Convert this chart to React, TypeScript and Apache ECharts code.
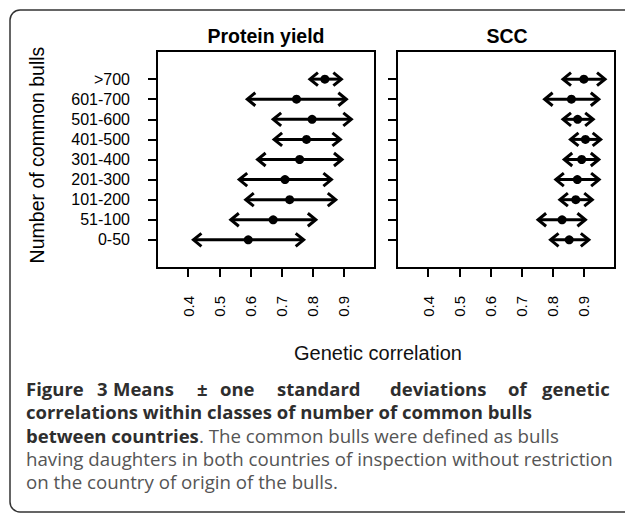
import React, { useEffect, useRef } from "react";
import * as echarts from "echarts";

const categories = ["0-50", "51-100", "101-200", "201-300", "301-400", "401-500", "501-600", "601-700", ">700"];
const proteinLow = [0.417, 0.537, 0.585, 0.564, 0.623, 0.676, 0.673, 0.59, 0.791];
const proteinMean = [0.593, 0.673, 0.726, 0.711, 0.758, 0.78, 0.798, 0.748, 0.839];
const proteinHigh = [0.771, 0.81, 0.874, 0.86, 0.894, 0.889, 0.924, 0.908, 0.892];
const sccLow = [0.793, 0.753, 0.823, 0.81, 0.837, 0.857, 0.833, 0.774, 0.833];
const sccMean = [0.853, 0.83, 0.874, 0.879, 0.893, 0.905, 0.88, 0.86, 0.9];
const sccHigh = [0.916, 0.905, 0.927, 0.949, 0.948, 0.954, 0.93, 0.948, 0.968];
const xTicks = [0.4, 0.5, 0.6, 0.7, 0.8, 0.9];
const panelTitles = ["Protein yield", "SCC"];

const FONT = "Liberation Sans";
const CAP = "Open Sans";

function rows(low: number[], mean: number[], high: number[]) {
  return categories.map((_, i) => [low[i], high[i], mean[i], i]);
}

function renderItem(params: any, api: any) {
  const low = api.value(0);
  const high = api.value(1);
  const mean = api.value(2);
  const idx = api.value(3);
  const a = api.coord([low, idx]);
  const b = api.coord([high, idx]);
  const m = api.coord([mean, idx]);
  const st = { stroke: "#000", lineWidth: 3, fill: null, lineCap: "butt", lineJoin: "miter" };
  return {
    type: "group",
    children: [
      { type: "line", shape: { x1: a[0] + 1, y1: a[1], x2: b[0] - 1, y2: b[1] }, style: st },
      { type: "polyline", shape: { points: [[a[0] + 8, a[1] - 6.5], [a[0], a[1]], [a[0] + 8, a[1] + 6.5]] }, style: st },
      { type: "polyline", shape: { points: [[b[0] - 8, b[1] - 6.5], [b[0], b[1]], [b[0] - 8, b[1] + 6.5]] }, style: st },
      { type: "circle", shape: { cx: m[0], cy: m[1], r: 4.5 }, style: { fill: "#000" } },
    ],
  };
}

function xAxis(gridIndex: number) {
  return {
    type: "value",
    gridIndex,
    position: "bottom",
    min: 0.3,
    max: 1.0,
    axisLine: { show: false, onZero: false },
    splitLine: { show: false },
    axisTick: { show: true, length: 9, customValues: xTicks, lineStyle: { color: "#000", width: 2 } },
    axisLabel: {
      show: true,
      customValues: xTicks,
      rotate: 90,
      margin: 28,
      fontSize: 15,
      fontFamily: FONT,
      color: "#000",
      formatter: (v: number) => v.toFixed(1),
    },
  };
}

function yAxis(gridIndex: number, labels: boolean) {
  const idx = categories.map((_, i) => i);
  return {
    type: "value",
    gridIndex,
    position: "left",
    min: -1.4,
    max: 9.4,
    axisLine: { show: false, onZero: false },
    splitLine: { show: false },
    axisTick: { show: true, length: 9, customValues: idx, lineStyle: { color: "#000", width: 2 } },
    axisLabel: {
      show: labels,
      customValues: idx,
      margin: 27,
      fontSize: 16,
      fontFamily: FONT,
      color: "#000",
      formatter: (v: number) => categories[Math.round(v)] ?? "",
    },
  };
}

function txt(text: string, x: number, y: number, size: number, weight: string, family: string, fill: string, align = "left", extra: any = {}) {
  return {
    type: "text",
    x,
    y,
    silent: true,
    ...extra,
    style: {
      text,
      fontSize: size,
      fontWeight: weight,
      fontFamily: family,
      fill,
      align,
      verticalAlign: "middle",
      textAlign: align,
      textVerticalAlign: "middle",
    },
  };
}

const line1Words = ["Figure", "3", "Means", "±", "one", "standard", "deviations", "of", "genetic"];
const line1X = [26, 97, 113, 197, 220, 277, 390, 508, 542];

export default function App() {
  const ref = useRef<HTMLDivElement>(null);
  useEffect(() => {
    if (!ref.current) return;
    const chart = echarts.init(ref.current, undefined, { renderer: "svg" });
    const bs = 18.5;
    const rs = 18.7;
    const bc = "#2e2e2e";
    const rc = "#555";
    const graphics: any[] = [
      { type: "rect", silent: true, shape: { x: 10, y: 10, width: 640, height: 502, r: 10 }, style: { fill: "none", stroke: "#333", lineWidth: 1.5 } },
      txt(panelTitles[0], 266, 36, 19.5, "bold", FONT, "#000", "center"),
      txt(panelTitles[1], 507, 36, 19.5, "bold", FONT, "#000", "center"),
      txt("Number of common bulls", 37, 155, 19.5, "normal", FONT, "#000", "center", { rotation: Math.PI / 2 }),
      txt("Genetic correlation", 378, 353, 20, "normal", FONT, "#111", "center"),
    ];
    line1Words.forEach((w, i) => graphics.push(txt(w, line1X[i], 388, bs, "bold", CAP, bc)));
    graphics.push(txt("correlations within classes of number of common bulls", 26, 411, bs, "bold", CAP, bc));
    graphics.push(txt("between countries", 26, 435, bs, "bold", CAP, bc));
    graphics.push(txt(". The common bulls were defined as bulls", 199, 435, rs, "normal", CAP, rc));
    graphics.push(txt("having daughters in both countries of inspection without restriction", 26, 458, rs, "normal", CAP, rc));
    graphics.push(txt("on the country of origin of the bulls.", 26, 481, rs, "normal", CAP, rc));

    chart.setOption({
      animation: false,
      grid: [
        { left: 157, top: 51, width: 218, height: 217, show: true, borderColor: "#000", borderWidth: 2, backgroundColor: "transparent" },
        { left: 397, top: 51, width: 218, height: 217, show: true, borderColor: "#000", borderWidth: 2, backgroundColor: "transparent" },
      ],
      xAxis: [xAxis(0), xAxis(1)],
      yAxis: [yAxis(0, true), yAxis(1, false)],
      series: [
        {
          type: "custom",
          xAxisIndex: 0,
          yAxisIndex: 0,
          clip: false,
          renderItem,
          encode: { x: [0, 1, 2], y: 3 },
          data: rows(proteinLow, proteinMean, proteinHigh),
        },
        {
          type: "custom",
          xAxisIndex: 1,
          yAxisIndex: 1,
          clip: false,
          renderItem,
          encode: { x: [0, 1, 2], y: 3 },
          data: rows(sccLow, sccMean, sccHigh),
        },
      ],
      graphic: graphics,
    });
    return () => chart.dispose();
  }, []);
  return <div ref={ref} style={{ position: "fixed", left: 0, top: 0, width: 625, height: 514, background: "#fff" }} />;
}
